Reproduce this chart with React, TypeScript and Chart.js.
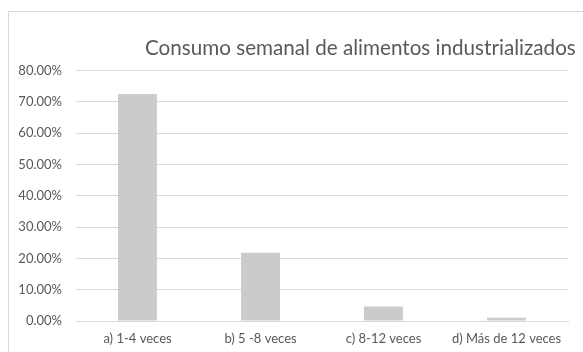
import React, { useEffect, useRef } from "react";
import { Chart, registerables } from "chart.js";

Chart.register(...registerables);

const categories = ["a) 1-4 veces", "b) 5 -8 veces", "c) 8-12 veces", "d) Más de 12 veces"];
const values = [72.5, 21.8, 4.6, 1.0];
const titleText = "Consumo semanal de alimentos industrializados";
const yMax = 80;
const yStep = 10;

const FONT = "Lato, 'Open Sans', sans-serif";

const framePlugin = {
  id: "frame",
  beforeDraw(chart: any) {
    const ctx = chart.ctx;
    ctx.save();
    ctx.fillStyle = "#ffffff";
    ctx.fillRect(0, 0, chart.width, chart.height);
    ctx.strokeStyle = "#d9d9d9";
    ctx.lineWidth = 1;
    ctx.strokeRect(8.5, 11.5, chart.width + 20, chart.height + 20);
    ctx.restore();
  },
  afterDraw(chart: any) {
    const ctx = chart.ctx;
    ctx.save();
    const targetLeft = 145;
    const targetRight = 576;
    let size = 19;
    ctx.font = `${size}px ${FONT}`;
    const w = ctx.measureText(titleText).width;
    size = size * (targetRight - targetLeft) / w;
    ctx.font = `${size}px ${FONT}`;
    ctx.fillStyle = "#595959";
    ctx.textBaseline = "alphabetic";
    ctx.textAlign = "left";
    ctx.fillText(titleText, targetLeft, 54.5);
    ctx.restore();
  },
};

export default function App() {
  const ref = useRef<HTMLCanvasElement>(null);
  useEffect(() => {
    if (!ref.current) return;
    const chart = new Chart(ref.current, {
      type: "bar",
      data: {
        labels: categories,
        datasets: [
          {
            data: values,
            backgroundColor: "#cbcbcb",
            borderWidth: 0,
            categoryPercentage: 1,
            barPercentage: 0.316,
          },
        ],
      },
      plugins: [framePlugin],
      options: {
        responsive: false,
        animation: false,
        devicePixelRatio: 1,
        layout: { padding: { top: 70.5, right: 15, left: 0, bottom: 0 } },
        plugins: {
          legend: { display: false },
          title: { display: false },
          tooltip: { enabled: false },
        },
        scales: {
          x: {
            grid: { display: false, drawTicks: false },
            border: { display: true, color: "#d9d9d9", width: 1 },
            ticks: {
              color: "#595959",
              font: { family: FONT, size: 13 },
              padding: 10,
              maxRotation: 0,
              autoSkip: false,
            },
            afterFit(scale: any) {
              scale.height = 31;
            },
          },
          y: {
            min: 0,
            max: yMax,
            grid: { color: "#d9d9d9", drawTicks: false, lineWidth: 1 },
            border: { display: false },
            ticks: {
              stepSize: yStep,
              color: "#595959",
              font: { family: FONT, size: 13 },
              padding: 14,
              callback: (v: any) => Number(v).toFixed(2) + "%",
            },
            afterFit(scale: any) {
              scale.width = 76;
            },
          },
        },
      },
    });
    return () => chart.destroy();
  }, []);
  return (
    <canvas
      ref={ref}
      width={583}
      height={352}
      style={{ position: "fixed", left: 0, top: 0, width: 583, height: 352 }}
    />
  );
}
